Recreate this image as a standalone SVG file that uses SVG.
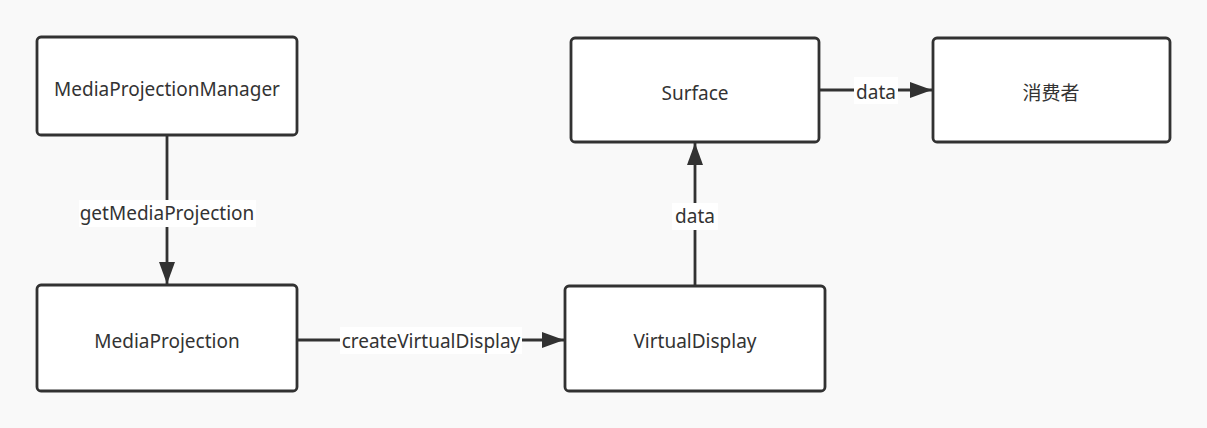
<svg xmlns="http://www.w3.org/2000/svg" width="1207" height="428" viewBox="0 0 1207 428">
<style>
.node rect{fill:#ffffff;stroke:#323232;stroke-width:2.8}
.node text{font-family:"Noto Sans","Liberation Sans","Noto Sans CJK SC",sans-serif;font-size:19px;fill:#333333;text-anchor:middle;dominant-baseline:central}
.edge line{stroke:#323232;stroke-width:2.8}
.lbl rect{fill:#ffffff}
.lbl text{font-family:"Noto Sans","Liberation Sans",sans-serif;font-size:19px;fill:#333333;text-anchor:middle;dominant-baseline:central}
</style>
<defs>
<marker id="arr" viewBox="0 0 22 16" refX="22" refY="8" markerWidth="22" markerHeight="16" markerUnits="userSpaceOnUse" orient="auto">
<path d="M0,0 L22,8 L0,16 Z" fill="#323232"/>
</marker>
</defs>
<rect x="0" y="0" width="1207" height="428" fill="#f9f9f9"/>
<g id="connectors" class="edge">
<line x1="167" y1="136" x2="167" y2="284" marker-end="url(#arr)"/>
<line x1="298" y1="340" x2="564" y2="340" marker-end="url(#arr)"/>
<line x1="695" y1="285" x2="695" y2="143" marker-end="url(#arr)"/>
<line x1="820" y1="90" x2="932" y2="90" marker-end="url(#arr)"/>
<g class="lbl">
<rect x="79" y="200" width="177" height="27"/>
<text x="167" y="213">getMediaProjection</text>
<rect x="340" y="327" width="182" height="27"/>
<text x="431" y="341">createVirtualDisplay</text>
<rect x="672" y="203" width="46" height="27"/>
<text x="695" y="216">data</text>
<rect x="854" y="77" width="44" height="27"/>
<text x="876" y="92">data</text>
</g>
</g>
<g id="n1" class="node"><rect x="37" y="37" width="260" height="98" rx="4"/><text x="167" y="89">MediaProjectionManager</text></g>
<g id="n2" class="node"><rect x="37" y="285" width="260" height="106" rx="4"/><text x="167" y="341">MediaProjection</text></g>
<g id="n3" class="node"><rect x="565" y="286" width="260" height="105" rx="4"/><text x="695" y="341">VirtualDisplay</text></g>
<g id="n4" class="node"><rect x="571" y="38" width="248" height="104" rx="4"/><text x="695" y="93">Surface</text></g>
<g id="n5" class="node"><rect x="933" y="38" width="237" height="104" rx="4"/><text x="1051" y="93">消费者</text></g>
</svg>
